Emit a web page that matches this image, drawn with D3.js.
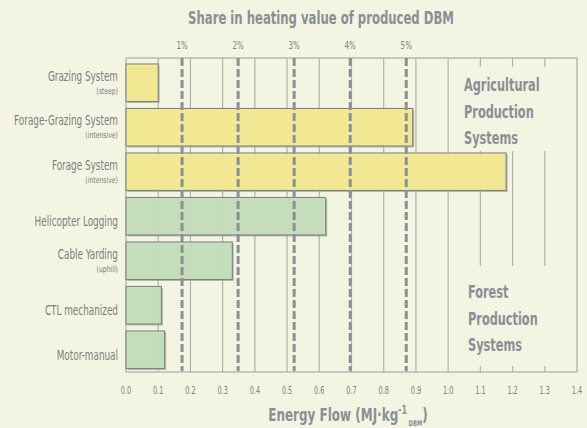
<!DOCTYPE html>
<html><head><meta charset="utf-8">
<script src="https://cdn.jsdelivr.net/npm/d3@7"></script>
<style>
html,body{margin:0;padding:0;background:#f3f4e1;}
svg{display:block;}
text{font-family:"DejaVu Sans Condensed","DejaVu Sans",sans-serif;}
</style></head>
<body><svg id="c" width="587" height="428"></svg>
<script>
const categories = ["Grazing System","Forage-Grazing System","Forage System","Helicopter Logging","Cable Yarding","CTL mechanized","Motor-manual"];
const subLabels = ["(steep)","(intensive)","(intensive)","","(uphill)","",""];
const groups = ["agri","agri","agri","forest","forest","forest","forest"];
const values = [0.10, 0.89, 1.18, 0.62, 0.33, 0.11, 0.12];
const xTicks = [0,0.1,0.2,0.3,0.4,0.5,0.6,0.7,0.8,0.9,1.0,1.1,1.2,1.3,1.4];
const pctTicks = [1,2,3,4,5];
const pctUnit = 0.174; // MJ/kg per 1% of heating value
const groupLabels = [["Agricultural","Production","Systems"],["Forest","Production","Systems"]];

const svg = d3.select("#c");
const bg = "#f3f4e1", grey = "#8a8f96", txt = "#7b7f85";
const L = 126, R = 577, T = 58, B = 372;
const x = d3.scaleLinear().domain([0,1.4]).range([L,R]);
const y = d3.scaleBand().domain(categories).range([60.5,372]).paddingInner(0.157).paddingOuter(0.0785);

function tx(parent, px, py, str, size, k, anchor, weight, fill){
  return parent.append("text").attr("transform",`translate(${px},${py}) scale(${k},1)`)
    .attr("text-anchor",anchor||"start").attr("font-size",size)
    .attr("font-weight",weight||"normal").attr("fill",fill||txt).text(str);
}

// grid
svg.append("g").selectAll("line").data(xTicks.slice(1,-1)).join("line")
  .attr("x1",d=>x(d)).attr("x2",d=>x(d)).attr("y1",T).attr("y2",B)
  .attr("stroke","#aeb1b5").attr("stroke-width",1.2);
// label boxes covering the grid
svg.append("rect").attr("x",461).attr("y",67).attr("width",R-461-1).attr("height",84).attr("fill",bg);
svg.append("rect").attr("x",461).attr("y",266).attr("width",R-461-1).attr("height",100).attr("fill",bg);
// frame
svg.append("rect").attr("x",L).attr("y",T).attr("width",R-L).attr("height",B-T)
  .attr("fill","none").attr("stroke","#a7aaae").attr("stroke-width",1.2);

// bars
const bars = svg.append("g");
bars.selectAll("rect.sh").data(categories).join("rect").attr("class","sh")
  .attr("x",L+1.5).attr("y",d=>y(d)+1.5).attr("width",(d,i)=>x(values[i])-L).attr("height",y.bandwidth())
  .attr("fill","#9fa39c").attr("opacity",0.7);
bars.selectAll("rect.b").data(categories).join("rect").attr("class","b")
  .attr("x",L).attr("y",d=>y(d)).attr("width",(d,i)=>x(values[i])-L).attr("height",y.bandwidth())
  .attr("fill",(d,i)=>groups[i]==="agri"?"#f8ec90":"#c5e1bb").attr("fill-opacity",0.9)
  .attr("stroke","#7f8480").attr("stroke-width",1.1);

// dashed percent lines
svg.append("g").selectAll("line").data(pctTicks).join("line")
  .attr("x1",d=>x(d*pctUnit)).attr("x2",d=>x(d*pctUnit)).attr("y1",T).attr("y2",B-1)
  .attr("stroke","#8b9097").attr("stroke-width",3).attr("stroke-dasharray","8,3");
const pg = svg.append("g");
pctTicks.forEach(d=>tx(pg, x(d*pctUnit), 49, d+"%", 11, 0.72, "middle"));

// title
tx(svg, 321, 24, "Share in heating value of produced DBM", 18, 0.72, "middle", "bold", grey);

// x axis labels
const xg = svg.append("g");
xTicks.forEach(d=>tx(xg, x(d), 394, d.toFixed(1), 11, 0.66, "middle"));
const xt = tx(svg, 348, 421, "", 18, 0.74, "middle", "bold", grey);
xt.append("tspan").text("Energy Flow (MJ·kg");
xt.append("tspan").attr("dy",-7).attr("font-size",12).text("-1");
xt.append("tspan").attr("dy",12).attr("dx",2).attr("font-size",8).text("DBM");
xt.append("tspan").attr("dy",-5).text(")");

// y labels
const yl = svg.append("g");
categories.forEach((c,i)=>{
  const cy = y(c)+y.bandwidth()/2;
  if(subLabels[i]){
    tx(yl, 118, cy-2, c, 13.5, 0.73, "end");
    tx(yl, 118, cy+11, subLabels[i], 8.5, 0.8, "end");
  } else {
    tx(yl, 118, cy+10, c, 13.5, 0.73, "end");
  }
});

// group labels
const gl = svg.append("g");
groupLabels[0].forEach((t,i)=>tx(gl, 464, 91+i*26.5, t, 17.5, 0.72, "start", "bold", grey));
groupLabels[1].forEach((t,i)=>tx(gl, 468, 298+i*26.5, t, 17.5, 0.72, "start", "bold", grey));
</script></body></html>
